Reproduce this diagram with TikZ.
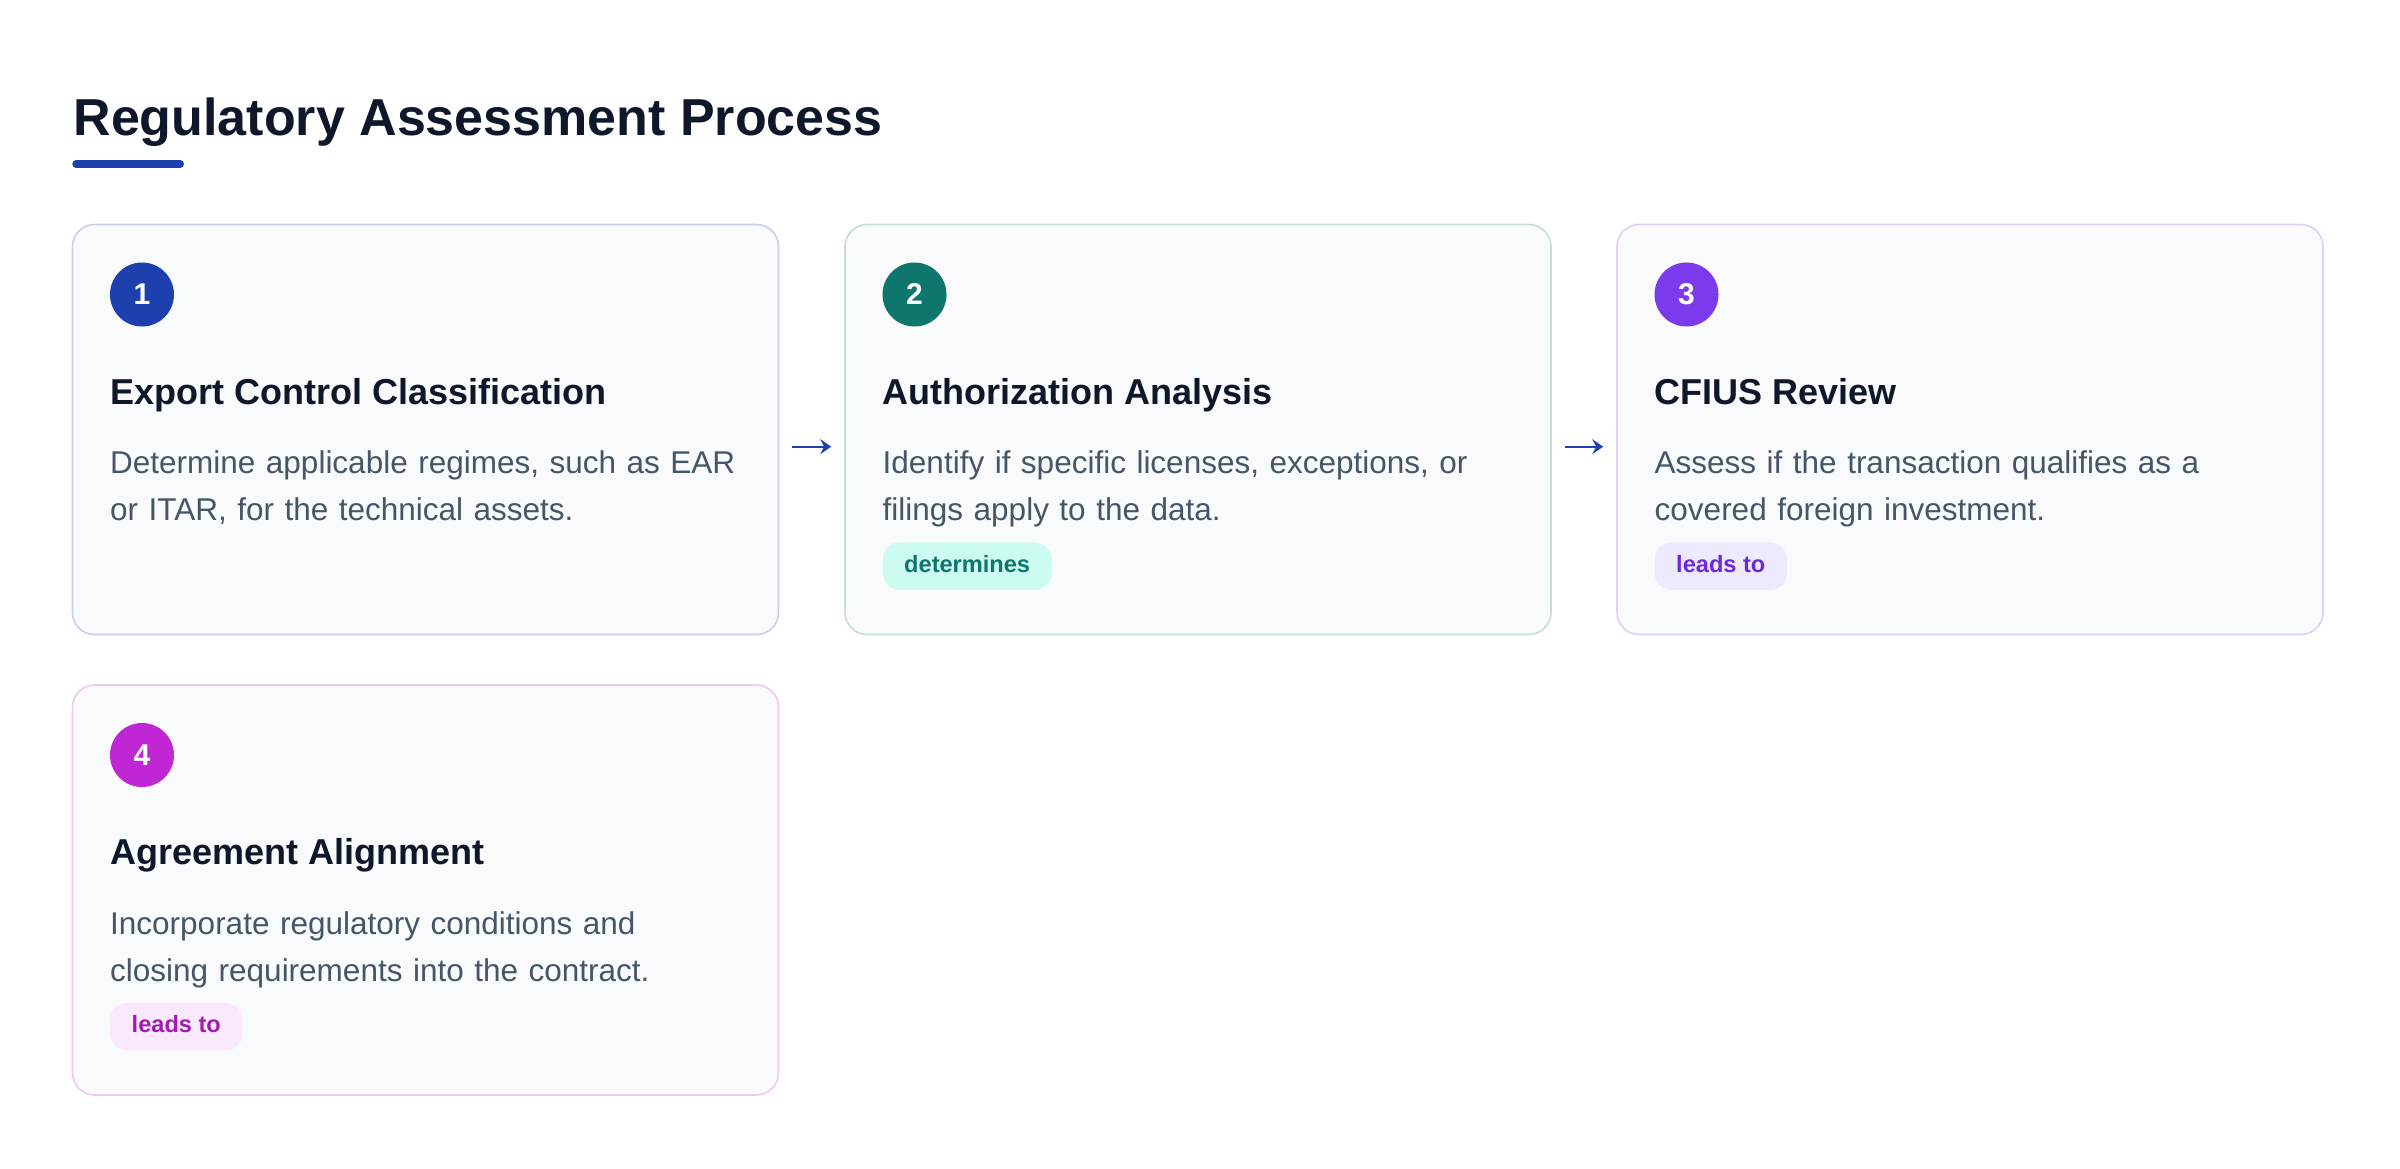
\documentclass[tikz,border=0pt]{standalone}
\usepackage{fontspec}
\setmainfont{Liberation Sans}
\usetikzlibrary{arrows.meta}
\definecolor{ink}{HTML}{0F172A}
\definecolor{slate}{HTML}{475569}
\definecolor{cardbg}{HTML}{F8FAFC}
\definecolor{blueA}{HTML}{1E40AF}
\definecolor{tealA}{HTML}{0F766E}
\definecolor{violetA}{HTML}{7C3AED}
\definecolor{pinkA}{HTML}{C026D3}
\definecolor{tealbg}{HTML}{CCFBF1}
\definecolor{violetbg}{HTML}{EDE9FE}
\definecolor{violettx}{HTML}{6D28D9}
\definecolor{pinkbg}{HTML}{FAE8FF}
\definecolor{pinktx}{HTML}{A21CAF}
\begin{document}
\begin{tikzpicture}[x=1pt,y=-1pt,
	card/.style={draw=#1!25!white,fill=cardbg,line width=1.6pt,rounded corners=22pt,minimum width=706pt,minimum height=410pt,inner sep=0pt},
	num/.style={circle,fill=#1,text=white,minimum size=64pt,inner sep=0pt,font=\fontsize{30}{30}\selectfont\bfseries},
	head/.style={anchor=base west,inner sep=0pt,text=ink,font=\fontsize{36}{40}\selectfont\bfseries},
	desc/.style={anchor=base west,inner sep=0pt,text=slate,text width=640pt,align=left,font=\fontsize{31.5}{47}\selectfont},
	tag/.style 2 args={anchor=west,fill=#1,text=#2,rounded corners=17pt,inner xsep=21.5pt,inner ysep=0pt,minimum height=47.5pt,text height=17.5pt,text depth=5.5pt,font=\fontsize{23.6}{24}\selectfont\bfseries},
	flow/.style={blueA,line width=2.3pt,-{Stealth[length=11pt,width=15pt,inset=4pt]},shorten <=13pt,shorten >=13pt}]
	\fill[white] (0,0) rectangle (2400,1168) ;
	\node[anchor=base west,inner sep=0pt,text=ink,font=\fontsize{52}{60}\selectfont\bfseries] (title) at (73.3,135) {Regulatory Assessment Process} ;
	\draw[blueA,line width=7.5pt,line cap=round] (76,163.8) -- (180.3,163.8) ;
	% cards
	\node[card=blueA] (c1) at (425.5,429.5) {} ;
	\node[card=tealA] (c2) at (1198,429.5) {} ;
	\node[card=violetA] (c3) at (1970,429.5) {} ;
	\node[card=pinkA] (c4) at (425.5,890) {} ;
	% card 1
	\node[num=blueA] (n1) at (142,294.5) {1} ;
	\node[head] (h1) at (110,404) {Export Control Classification} ;
	\node[desc] (d1) at (110,473.5) {Determine applicable regimes, such as EAR\\or ITAR, for the technical assets.} ;
	% card 2
	\node[num=tealA] (n2) at (914.5,294.5) {2} ;
	\node[head] (h2) at (882.5,404) {Authorization Analysis} ;
	\node[desc] (d2) at (882.5,473.5) {Identify if specific licenses, exceptions, or\\filings apply to the data.} ;
	\node[tag={tealbg}{tealA}] (t2) at (882.5,566.2) {determines} ;
	% card 3
	\node[num=violetA] (n3) at (1686.5,294.5) {3} ;
	\node[head] (h3) at (1654.5,404) {CFIUS Review} ;
	\node[desc] (d3) at (1654.5,473.5) {Assess if the transaction qualifies as a\\covered foreign investment.} ;
	\node[tag={violetbg}{violettx}] (t3) at (1654.5,566.2) {leads to} ;
	% card 4
	\node[num=pinkA] (n4) at (142,755) {4} ;
	\node[head] (h4) at (110,864.5) {Agreement Alignment} ;
	\node[desc] (d4) at (110,934) {Incorporate regulatory conditions and\\closing requirements into the contract.} ;
	\node[tag={pinkbg}{pinktx}] (t4) at (110,1026.7) {leads to} ;
	% arrows
	\draw[flow] ([yshift=-17.2pt]c1.east) -- ([yshift=-17.2pt]c2.west) ;
	\draw[flow] ([yshift=-17.2pt]c2.east) -- ([yshift=-17.2pt]c3.west) ;
\end{tikzpicture}
\end{document}
